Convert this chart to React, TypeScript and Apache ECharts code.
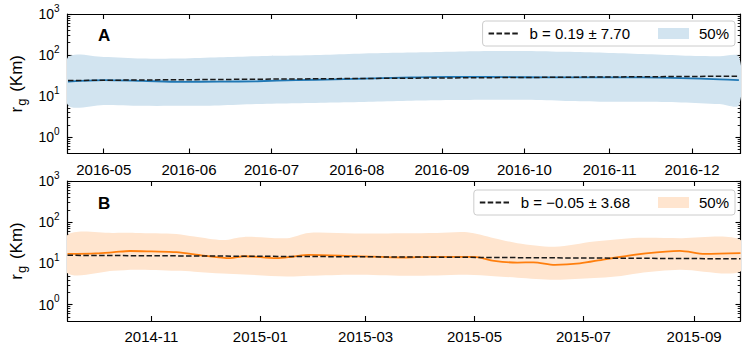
import React, { useEffect, useRef } from 'react';
import * as echarts from 'echarts';

// ---------- Panel A (2016) ----------
const A_RANGE = ['2016-04-17 20:00', '2016-12-18 14:00'];
const A_TICKS = ['2016-05', '2016-06', '2016-07', '2016-08', '2016-09', '2016-10', '2016-11', '2016-12'];
const A_DATES = [
  '2016-04-18', '2016-05-01', '2016-05-15', '2016-05-29', '2016-06-12', '2016-06-26', '2016-07-10',
  '2016-07-24', '2016-08-07', '2016-08-21', '2016-09-04', '2016-09-18', '2016-10-02', '2016-10-16',
  '2016-10-30', '2016-11-13', '2016-11-27', '2016-12-11', '2016-12-18',
];
const A_MEDIAN = [22.5, 24.5, 23.5, 22.3, 22.5, 23, 24.5, 25.5, 27, 28.5, 29.5, 29.5, 28.8, 28.5, 28.5, 28.5, 27.5, 25.5, 24.5];
const A_UPPER = [88, 90, 82, 82, 88, 94, 97, 103, 110, 115, 120, 125, 126, 120, 114, 106, 98, 93, 91];
const A_LOWER = [6.0, 6.1, 5.8, 5.8, 5.9, 6.4, 6.7, 7.0, 7.3, 7.7, 8.0, 8.2, 8.1, 7.6, 7.3, 7.3, 7.0, 6.4, 6.0];
const A_FIT_DATES = ['2016-04-18', '2016-08-18', '2016-12-18'];
const A_FIT = [24.0, 27.3, 30.6];
const A_FIT_NAME = 'b = 0.19 ± 7.70';

// ---------- Panel B (2014-2015) ----------
const B_RANGE = ['2014-09-15', '2015-09-27'];
const B_TICKS = ['2014-11', '2015-01', '2015-03', '2015-05', '2015-07', '2015-09'];
const B_MED_DATES = [
  '2014-09-15', '2014-10-01', '2014-10-11', '2014-10-20', '2014-11-01', '2014-11-15', '2014-11-30',
  '2014-12-15', '2014-12-23', '2015-01-10', '2015-01-19', '2015-01-28', '2015-02-23', '2015-03-23',
  '2015-04-05', '2015-05-01', '2015-05-12', '2015-05-25', '2015-06-03', '2015-06-15', '2015-06-29',
  '2015-07-13', '2015-08-05', '2015-08-24', '2015-09-07', '2015-09-27',
];
const B_MEDIAN = [17, 17.5, 18.7, 20, 19.5, 18.7, 15.5, 13.4, 14.9, 13.4, 14.5, 16.1, 15, 13.9, 14.4, 14.4, 11.5, 10.5, 10.6, 9.2, 10, 12.6, 17.5, 20.2, 17, 17.7];
const B_BAND_DATES = [
  '2014-09-15', '2014-10-11', '2014-10-23', '2014-11-15', '2014-11-25', '2014-12-11', '2014-12-23',
  '2015-01-16', '2015-01-28', '2015-02-23', '2015-03-23', '2015-04-10', '2015-04-27', '2015-05-12',
  '2015-05-25', '2015-06-15', '2015-07-07', '2015-07-19', '2015-08-01', '2015-08-24', '2015-09-27',
];
const B_UPPER = [49, 55, 55, 52, 45, 37, 44, 41, 55, 53, 54, 55, 57, 41, 31, 25.5, 34, 38, 42, 41, 37];
const B_LOWER = [5.8, 6.6, 7.0, 6.6, 6.3, 5.7, 5.4, 4.8, 5.0, 5.3, 5.0, 5.1, 5.3, 4.9, 4.5, 4.0, 4.4, 4.8, 5.8, 7.0, 6.4];
const B_FIT_DATES = ['2014-09-15', '2015-03-22', '2015-09-27'];
const B_FIT = [15.7, 14.3, 12.9];
const B_FIT_NAME = 'b = \u22120.05 ± 3.68';

const Y_MAJOR = [1, 10, 100, 1000];
const Y_MINOR = [0.4, 0.5, 0.6, 0.7, 0.8, 0.9, 2, 3, 4, 5, 6, 7, 8, 9, 20, 30, 40, 50, 60, 70, 80, 90, 200, 300, 400, 500, 600, 700, 800, 900];

const FONT = "'Liberation Sans', Arial, sans-serif";
const BLUE = '#1f77b4';
const ORANGE = '#ff7f0e';
const BLUE_BAND = '#d2e4f0';
const ORANGE_BAND = '#ffe5cf';

function ts(s: string): number {
  const [d, t] = s.split(' ');
  const [y, m, dd] = d.split('-').map(Number);
  let hh = 0, mm = 0;
  if (t) [hh, mm] = t.split(':').map(Number);
  return new Date(y, m - 1, dd || 1, hh, mm).getTime();
}
function pairs(dates: string[], vals: number[]) {
  return dates.map((d, i) => [ts(d), vals[i]]);
}
function fmtDate(v: number) {
  const d = new Date(Math.round(v));
  const m = d.getMonth() + 1;
  return d.getFullYear() + '-' + (m < 10 ? '0' + m : '' + m);
}

function xAxes(grid: number, range: string[], ticks: string[]) {
  const tv = ticks.map(ts);
  const base = {
    type: 'value',
    gridIndex: grid,
    min: ts(range[0]),
    max: ts(range[1]),
    scale: true,
    axisLine: { show: true, onZero: false, lineStyle: { color: '#000', width: 1.2 } },
    axisTick: { show: true, inside: true, length: 5, customValues: tv, lineStyle: { color: '#000', width: 1.1 } },
    splitLine: { show: false },
    minorTick: { show: false },
  };
  return [
    {
      ...base,
      position: 'bottom',
      axisLabel: { show: true, customValues: tv, formatter: fmtDate, color: '#000', fontSize: 15, fontFamily: FONT, margin: 8 },
    },
    { ...base, position: 'top', axisLabel: { show: false } },
  ];
}

function yAxes(grid: number) {
  const base = {
    type: 'log',
    logBase: 10,
    gridIndex: grid,
    min: 0.4,
    max: 1000,
    splitLine: { show: false },
    minorTick: { show: false },
  };
  const major = {
    ...base,
    axisLine: { show: true, lineStyle: { color: '#000', width: 1.2 } },
    axisTick: { show: true, inside: true, length: 5, customValues: Y_MAJOR, lineStyle: { color: '#000', width: 1.1 } },
  };
  const minor = {
    ...base,
    axisLine: { show: false },
    axisTick: { show: true, inside: true, length: 2.8, customValues: Y_MINOR, lineStyle: { color: '#000', width: 0.9 } },
    axisLabel: { show: false },
  };
  return [
    {
      ...major,
      position: 'left',
      axisLabel: {
        show: true,
        customValues: Y_MAJOR,
        margin: 8,
        formatter: (v: number) => '{b|10}{s|' + Math.round(Math.log10(v)) + '}',
        rich: {
          b: { fontSize: 14, fontFamily: FONT, color: '#000' },
          s: { fontSize: 10, fontFamily: FONT, color: '#000', padding: [0, 0, 12, 0] },
        },
      },
      name: 'r{sub|g} (Km)',
      nameLocation: 'middle',
      nameRotate: 90,
      nameGap: 40,
      nameTextStyle: {
        fontSize: 17,
        fontFamily: FONT,
        color: '#000',
        rich: {
          sub: { fontSize: 13, fontFamily: FONT, color: '#000', padding: [9, 2, 0, 1] },
        },
      },
    },
    { ...minor, position: 'left' },
    { ...major, position: 'right', axisLabel: { show: false } },
    { ...minor, position: 'right' },
  ];
}

function panelSeries(
  xi: number, yi: number,
  bandDates: string[], upper: number[], lower: number[],
  medDates: string[], median: number[],
  fitDates: string[], fit: number[], fitName: string,
  color: string, bandColor: string,
) {
  return [
    {
      type: 'custom', name: '50%', xAxisIndex: xi, yAxisIndex: yi,
      data: bandDates.map((d, i) => [ts(d), lower[i], upper[i]]),
      encode: { x: 0, y: [1, 2] },
      clip: true,
      silent: true,
      z: 1,
      itemStyle: { color: bandColor },
      renderItem: (params: any, api: any) => {
        if (params.dataIndex !== 0) return null;
        const up = bandDates.map((d, i) => api.coord([ts(d), upper[i]]));
        const lo = bandDates.map((d, i) => api.coord([ts(d), lower[i]])).reverse();
        return {
          type: 'polygon',
          shape: { points: up.concat(lo), smooth: 0.3 },
          style: { fill: bandColor, stroke: 'none' },
        };
      },
    },
    {
      type: 'line', name: 'median-' + xi, xAxisIndex: xi, yAxisIndex: yi,
      data: pairs(medDates, median), symbol: 'none', smooth: 0.3,
      lineStyle: { color, width: 1.8 }, itemStyle: { color }, z: 2,
    },
    {
      type: 'line', name: fitName, xAxisIndex: xi, yAxisIndex: yi,
      data: pairs(fitDates, fit), symbol: 'none',
      lineStyle: { color: '#1a1a1a', width: 1.5, type: [5.5, 2.4] }, itemStyle: { color: '#1a1a1a' }, z: 3,
    },
  ];
}

function legend(top: number, fitName: string, bandColor: string) {
  return {
    show: true,
    data: [
      { name: fitName, itemStyle: { opacity: 0 } },
      { name: '50%', icon: 'rect', itemStyle: { color: bandColor, opacity: 1 } },
    ],
    right: 13,
    top,
    orient: 'horizontal',
    itemWidth: 31,
    itemHeight: 11,
    itemGap: 28,
    padding: [5, 6, 5, 5],
    borderColor: '#cccccc',
    borderWidth: 1,
    borderRadius: 3,
    backgroundColor: 'rgba(255,255,255,0.8)',
    selectedMode: false,
    textStyle: { fontSize: 15, color: '#000', fontFamily: FONT, padding: [0, 0, 0, 5], lineHeight: 15 },
  };
}

export default function App() {
  const ref = useRef<HTMLDivElement>(null);
  useEffect(() => {
    if (!ref.current) return;
    const chart = echarts.init(ref.current, undefined, { renderer: 'svg' });
    const option: any = {
      animation: false,
      backgroundColor: '#fff',
      textStyle: { fontFamily: FONT },
      grid: [
        { left: 63.5, right: 7.5, top: 14, height: 139.5 },
        { left: 63.5, right: 7.5, top: 181, height: 140 },
      ],
      xAxis: [...xAxes(0, A_RANGE, A_TICKS), ...xAxes(1, B_RANGE, B_TICKS)],
      yAxis: [...yAxes(0), ...yAxes(1)],
      legend: [legend(21, A_FIT_NAME, BLUE_BAND), legend(190, B_FIT_NAME, ORANGE_BAND)],
      series: [
        ...panelSeries(0, 0, A_DATES, A_UPPER, A_LOWER, A_DATES, A_MEDIAN, A_FIT_DATES, A_FIT, A_FIT_NAME, BLUE, BLUE_BAND),
        ...panelSeries(2, 4, B_BAND_DATES, B_UPPER, B_LOWER, B_MED_DATES, B_MEDIAN, B_FIT_DATES, B_FIT, B_FIT_NAME, ORANGE, ORANGE_BAND),
      ],
      graphic: [
        { type: 'text', left: 98, top: 27, style: { text: 'A', fontSize: 17, fontWeight: 'bold', fontFamily: FONT, fill: '#000' } },
        { type: 'text', left: 98, top: 195, style: { text: 'B', fontSize: 17, fontWeight: 'bold', fontFamily: FONT, fill: '#000' } },
      ],
    };
    chart.setOption(option);
    return () => chart.dispose();
  }, []);
  return <div ref={ref} style={{ position: 'fixed', left: 0, top: 0, width: 748, height: 351 }} />;
}
